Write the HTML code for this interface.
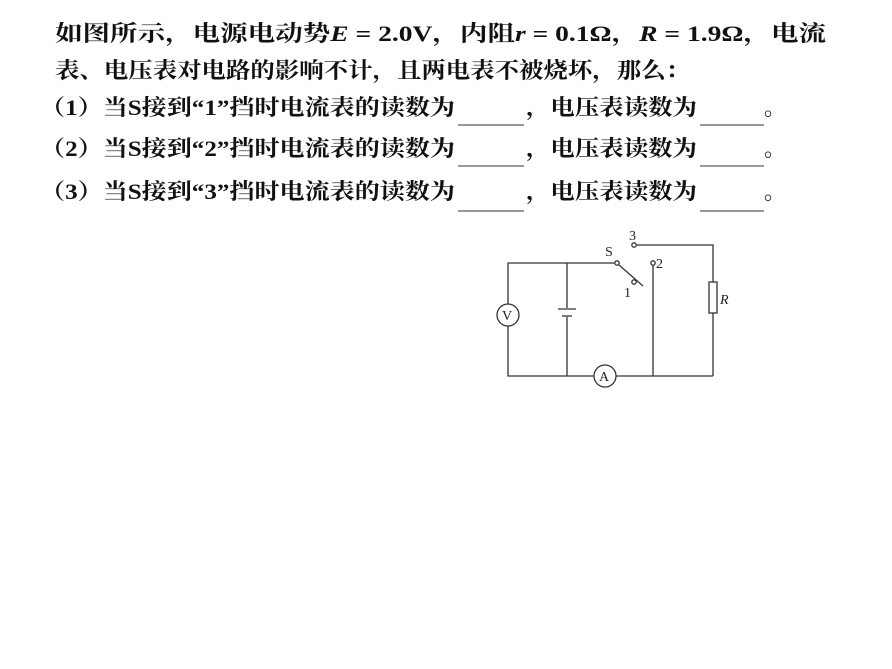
<!DOCTYPE html>
<html><head><meta charset="utf-8"><style>
html,body{margin:0;padding:0;background:#fff;width:892px;height:669px;overflow:hidden}
svg{display:block}
.t{font-family:"Liberation Serif","Noto Serif CJK SC",serif;font-size:22px;font-weight:bold;fill:#111}
.c{font-family:"Liberation Serif",serif;font-size:14px;fill:#222}
</style></head><body>
<svg width="892" height="669" xmlns="http://www.w3.org/2000/svg">
<text class="t" x="55" y="41" textLength="771" lengthAdjust="spacingAndGlyphs">如图所示，电源电动势<tspan font-style="italic">E</tspan> = 2.0V，内阻<tspan font-style="italic">r</tspan> = 0.1Ω，<tspan font-style="italic">R</tspan> = 1.9Ω，电流</text>
<text class="t" x="55" y="78" textLength="635" lengthAdjust="spacingAndGlyphs">表、电压表对电路的影响不计，且两电表不被烧坏，那么：</text>
<g>
<text class="t" x="40" y="115" textLength="415" lengthAdjust="spacingAndGlyphs">（1）当S接到“1”挡时电流表的读数为</text>
<text class="t" x="526" y="115" textLength="171" lengthAdjust="spacingAndGlyphs">，电压表读数为</text>
<text class="t" x="764" y="115">。</text>
<line x1="458" y1="125" x2="524" y2="125" stroke="#333" stroke-width="1"/>
<line x1="700" y1="125" x2="764" y2="125" stroke="#333" stroke-width="1"/>
</g>
<g>
<text class="t" x="40" y="156" textLength="415" lengthAdjust="spacingAndGlyphs">（2）当S接到“2”挡时电流表的读数为</text>
<text class="t" x="526" y="156" textLength="171" lengthAdjust="spacingAndGlyphs">，电压表读数为</text>
<text class="t" x="764" y="156">。</text>
<line x1="458" y1="166" x2="524" y2="166" stroke="#333" stroke-width="1"/>
<line x1="700" y1="166" x2="764" y2="166" stroke="#333" stroke-width="1"/>
</g>
<g>
<text class="t" x="40" y="199" textLength="415" lengthAdjust="spacingAndGlyphs">（3）当S接到“3”挡时电流表的读数为</text>
<text class="t" x="526" y="199" textLength="171" lengthAdjust="spacingAndGlyphs">，电压表读数为</text>
<text class="t" x="764" y="199">。</text>
<line x1="458" y1="211" x2="524" y2="211" stroke="#333" stroke-width="1"/>
<line x1="700" y1="211" x2="764" y2="211" stroke="#333" stroke-width="1"/>
</g>
<g stroke="#333" stroke-width="1.3" fill="none">
<polyline points="615,263 508,263 508,304"/>
<polyline points="508,326 508,376 594,376"/>
<line x1="616" y1="376" x2="713" y2="376"/>
<line x1="567" y1="263" x2="567" y2="308"/>
<line x1="567" y1="317" x2="567" y2="376"/>
<line x1="558" y1="309" x2="576" y2="309"/>
<line x1="562" y1="316" x2="572" y2="316"/>
<circle cx="508" cy="315" r="11"/>
<circle cx="605" cy="376" r="11"/>
<circle cx="617" cy="263" r="2.2" fill="#fff"/>
<line x1="619" y1="265" x2="643" y2="286"/>
<circle cx="634" cy="282" r="2.2" fill="#fff"/>
<circle cx="653" cy="263" r="2.2" fill="#fff"/>
<line x1="653" y1="265" x2="653" y2="376"/>
<circle cx="634" cy="245" r="2.2" fill="#fff"/>
<polyline points="636,245 713,245 713,282"/>
<rect x="709" y="282" width="8" height="31"/>
<line x1="713" y1="313" x2="713" y2="376"/>
</g>
<text class="c" x="502" y="320" font-size="13">V</text>
<text class="c" x="599" y="381" font-size="13">A</text>
<text class="c" x="605" y="256">S</text>
<text class="c" x="629" y="240">3</text>
<text class="c" x="656" y="268">2</text>
<text class="c" x="624" y="297">1</text>
<text class="c" x="720" y="304" font-style="italic">R</text>
</svg>
</body></html>
